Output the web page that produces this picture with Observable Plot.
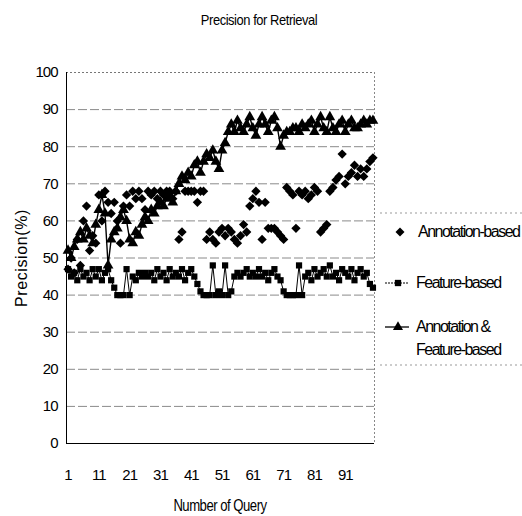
<!DOCTYPE html>
<html><head><meta charset="utf-8">
<script src="https://cdn.jsdelivr.net/npm/d3@7"></script>
<script src="https://cdn.jsdelivr.net/npm/@observablehq/plot@0.6"></script>
<style>
body{margin:0;background:#fff;font-family:"Liberation Sans",Arial,sans-serif;color:#000;}
#wrap{position:relative;width:522px;height:516px;overflow:hidden;}
#title{position:absolute;left:0;top:11px;width:518px;text-align:center;font-size:15px;letter-spacing:-0.5px;transform:scaleX(0.86);}
#chart{position:absolute;left:0;top:40px;}
#xlabel{position:absolute;left:0;top:497px;width:440px;text-align:center;font-size:16px;letter-spacing:-0.6px;transform:scaleX(0.82);}
#ylabel{position:absolute;left:22px;top:258px;font-size:16px;letter-spacing:0.6px;transform:translate(-50%,-50%) rotate(-90deg);white-space:nowrap;}
#legend{position:absolute;left:380px;top:205px;}
</style></head>
<body>
<div id="wrap">
  <div id="title">Precision for Retrieval</div>
  <div id="chart"></div>
  <div id="xlabel">Number of Query</div>
  <div id="ylabel">Precision(%)</div>
  <svg id="legend" width="142" height="165"></svg>
</div>
<script>
// categories
const queries = d3.range(1, 101);
const xTicks = [1, 11, 21, 31, 41, 51, 61, 71, 81, 91];
const yTicks = [0, 10, 20, 30, 40, 50, 60, 70, 80, 90, 100];
const gridLines = [10, 20, 30, 40, 50, 60, 70, 80, 90];
const seriesNames = ["Annotation-based", "Feature-based", "Annotation &\nFeature-based"];

// Annotation-based (diamonds only)
const annotation = [47,50,46,55,48,60,64,52,56,54,
                    67,60,68,65,62,65,60,54,64,67,
                    64,68,66,68,66,63,68,67,68,66,
                    68,67,68,68,66,68,55,57,68,68,
                    68,68,65,68,68,55,57,55,54,57,
                    58,56,58,57,55,54,56,59,57,64,
                    66,68,65,55,65,58,58,58,57,56,
                    55,69,68,67,58,68,67,68,66,67,
                    69,68,57,58,59,68,69,71,72,78,
                    70,72,73,75,72,74,72,74,76,77];

// Feature-based (squares + line)
const feature = [47,45,46,44,47,45,46,44,47,45,
                 47,44,46,47,44,42,40,40,40,47,
                 40,45,44,46,45,46,45,46,44,47,
                 45,46,44,47,45,46,45,47,44,46,
                 47,45,43,41,40,40,40,48,40,41,
                 40,48,40,41,45,46,45,46,47,45,
                 46,45,47,45,46,44,46,47,45,44,
                 41,40,40,40,40,48,40,45,46,44,
                 47,45,46,47,45,48,45,46,44,47,
                 46,45,47,44,46,47,45,46,43,42];

// Annotation & Feature-based (triangles + line)
const combined = [52,50,53,55,57,55,58,56,54,59,
                  63,67,62,48,55,57,58,61,63,60,
                  55,54,57,56,59,61,60,63,62,64,
                  65,64,66,67,65,68,70,72,71,73,
                  72,75,76,73,76,78,77,79,76,74,
                  79,81,84,86,84,87,85,84,86,88,
                  85,83,86,88,86,84,87,88,85,80,
                  83,84,84,85,85,84,86,85,86,87,
                  84,86,88,85,84,88,85,84,86,87,
                  84,86,87,85,85,86,87,86,87,87];

const data = queries.map((q, i) => ({q, ann: annotation[i], feat: feature[i], both: combined[i]}));

const font = "'Liberation Sans', Arial, sans-serif";
const chart = Plot.plot({
  width: 522, height: 476,
  marginLeft: 66, marginRight: 148, marginTop: 32, marginBottom: 73,
  style: {fontFamily: font, fontSize: "14px", color: "#000", background: "transparent", overflow: "visible"},
  x: {domain: [0.5, 100.5], label: null},
  y: {domain: [0, 100], label: null},
  marks: [
    Plot.ruleY(gridLines, {stroke: "#8a8a8a", strokeDasharray: "9,3", strokeWidth: 1}),
    Plot.ruleY([100], {stroke: "#777", strokeDasharray: "2,2", strokeWidth: 1}),
    Plot.ruleX([100.5], {stroke: "#888", strokeDasharray: "2,2", strokeWidth: 1}),
    Plot.axisX({ticks: xTicks, tickSize: 0, tickPadding: 26, tickFormat: d => String(d), fontSize: 15, label: null}),
    Plot.axisY({ticks: yTicks, tickSize: 0, tickPadding: 9, fontSize: 15, label: null}),
    Plot.ruleY([0], {stroke: "#000", strokeWidth: 1}),
    Plot.ruleX([0.5], {stroke: "#000", strokeWidth: 1}),
    Plot.line(data, {x: "q", y: "feat", stroke: "#000", strokeWidth: 1}),
    Plot.dot(data, {x: "q", y: "feat", symbol: "square", fill: "#000", r: 3.5}),
    Plot.line(data, {x: "q", y: "both", stroke: "#000", strokeWidth: 1.4}),
    Plot.dot(data, {x: "q", y: "both", symbol: "triangle", fill: "#000", r: 4}),
    Plot.dot(data, {x: "q", y: "ann", symbol: "diamond2", fill: "#000", stroke: "none", r: 4.2})
  ]
});
chart.querySelectorAll("text").forEach(t => t.style.letterSpacing = "-1px");
document.getElementById("chart").appendChild(chart);

// legend
const lg = d3.select("#legend");
lg.append("path").attr("d", "M0,8H142").attr("stroke", "#999").attr("stroke-dasharray", "2,3");
lg.append("path").attr("d", "M0,160H142").attr("stroke", "#999").attr("stroke-dasharray", "2,3");
const sym = (type, size) => d3.symbol().type(type).size(size)();
const diamond = "M0,-4.5L4.5,0L0,4.5L-4.5,0Z";
lg.append("path").attr("d", diamond).attr("transform", "translate(20,27)").attr("fill", "#000");
lg.append("text").attr("x", 38).attr("y", 32).text(seriesNames[0]);
lg.append("path").attr("d", "M5,78H29").attr("stroke", "#000").attr("stroke-dasharray", "2,1");
lg.append("path").attr("d", sym(d3.symbolSquare, 40)).attr("transform", "translate(18,78)").attr("fill", "#000");
lg.append("text").attr("x", 36).attr("y", 83).text(seriesNames[1]);
lg.append("path").attr("d", "M5,122H29").attr("stroke", "#000").attr("stroke-width", 1.3);
lg.append("path").attr("d", sym(d3.symbolTriangle, 44)).attr("transform", "translate(18,122)").attr("fill", "#000");
const lines = seriesNames[2].split("\n");
lg.append("text").attr("x", 36).attr("y", 127).text(lines[0]);
lg.append("text").attr("x", 36).attr("y", 150).text(lines[1]);
lg.selectAll("text").attr("font-size", 16).attr("font-family", font).attr("letter-spacing", "-1.5px");
</script>
</body></html>
